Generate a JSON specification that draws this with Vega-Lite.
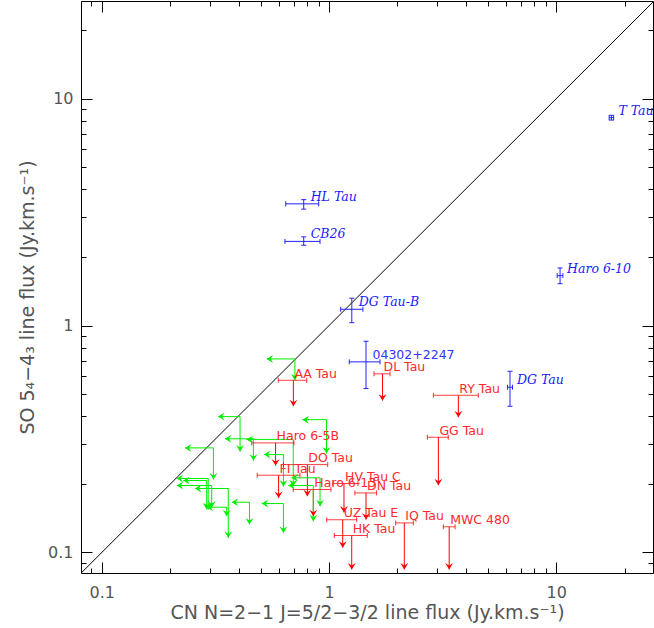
{
  "$schema": "https://vega.github.io/schema/vega-lite/v6.json",
  "width": 572,
  "height": 572,
  "autosize": "none",
  "padding": {"left": 81, "top": 1, "right": 1, "bottom": 55},
  "background": "white",
  "config": {"view": {"stroke": "black", "strokeWidth": 1}, "axis": {"grid": false}, "font": "DejaVu Sans"},
  "datasets": {
    "diag": [{"d": 0.0812}, {"d": 26.67}],
    "src": [
      {"name": "HL Tau", "kind": "blue", "x": 0.774, "xlo": 0.645, "xhi": 0.901, "y": 3.44, "ylo": 3.26, "yhi": 3.59},
      {"name": "CB26", "kind": "blue", "x": 0.774, "xlo": 0.64, "xhi": 0.913, "y": 2.35, "ylo": 2.26, "yhi": 2.46},
      {"name": "DG Tau-B", "kind": "blue", "x": 1.26, "xlo": 1.126, "xhi": 1.41, "y": 1.18, "ylo": 1.03, "yhi": 1.32},
      {"name": "04302+2247", "kind": "blue", "x": 1.455, "xlo": 1.228, "xhi": 1.677, "y": 0.692, "ylo": 0.528, "yhi": 0.853},
      {"name": "DG Tau", "kind": "blue", "x": 6.26, "xlo": 6.1, "xhi": 6.42, "y": 0.535, "ylo": 0.441, "yhi": 0.629},
      {"name": "Haro 6-10", "kind": "blue", "x": 10.4, "xlo": 10.1, "xhi": 10.7, "y": 1.66, "ylo": 1.53, "yhi": 1.795},
      {"name": "T Tau", "kind": "blue", "x": 17.5, "xlo": 17.1, "xhi": 17.9, "y": 8.25, "ylo": 8.05, "yhi": 8.45},
      {"name": "AA Tau", "kind": "red", "x": 0.697, "xlo": 0.598, "xhi": 0.798, "y": 0.574, "ytip": 0.441},
      {"name": "DL Tau", "kind": "red", "x": 1.72, "xlo": 1.578, "xhi": 1.856, "y": 0.613, "ytip": 0.467},
      {"name": "RY Tau", "kind": "red", "x": 3.71, "xlo": 2.88, "xhi": 4.54, "y": 0.493, "ytip": 0.394},
      {"name": "GG Tau", "kind": "red", "x": 3.03, "xlo": 2.71, "xhi": 3.35, "y": 0.322, "ytip": 0.198},
      {"name": "Haro 6-5B", "kind": "red", "x": 0.582, "xlo": 0.457, "xhi": 0.701, "y": 0.304, "ytip": 0.2416},
      {"name": "DO Tau", "kind": "red", "x": 0.803, "xlo": 0.63, "xhi": 0.987, "y": 0.244, "ytip": 0.177},
      {"name": "FI Tau", "kind": "red", "x": 0.6, "xlo": 0.483, "xhi": 0.745, "y": 0.219, "ytip": 0.174},
      {"name": "HV Tau C", "kind": "red", "x": 1.164, "xlo": 1.041, "xhi": 1.341, "y": 0.2014, "ytip": 0.15},
      {"name": "Haro 6-13", "kind": "red", "x": 0.853, "xlo": 0.696, "xhi": 1.02, "y": 0.1895, "ytip": 0.1445},
      {"name": "DN Tau", "kind": "red", "x": 1.455, "xlo": 1.3, "xhi": 1.62, "y": 0.183, "ytip": 0.1397},
      {"name": "UZ Tau E", "kind": "red", "x": 1.149, "xlo": 0.977, "xhi": 1.324, "y": 0.1394, "ytip": 0.105},
      {"name": "HK Tau", "kind": "red", "x": 1.259, "xlo": 1.055, "xhi": 1.474, "y": 0.1188, "ytip": 0.0842},
      {"name": "IQ Tau", "kind": "red", "x": 2.145, "xlo": 1.966, "xhi": 2.35, "y": 0.135, "ytip": 0.0842},
      {"name": "MWC 480", "kind": "red", "x": 3.38, "xlo": 3.185, "xhi": 3.59, "y": 0.1298, "ytip": 0.0842},
      {"name": "g1", "kind": "green", "x": 0.708, "y": 0.713, "xtip": 0.532, "ytip": 0.574},
      {"name": "g2", "kind": "green", "x": 0.406, "y": 0.397, "xtip": 0.325, "ytip": 0.2786},
      {"name": "g3", "kind": "green", "x": 0.975, "y": 0.385, "xtip": 0.764, "ytip": 0.273},
      {"name": "g4", "kind": "green", "x": 0.465, "y": 0.317, "xtip": 0.3485, "ytip": 0.254},
      {"name": "g5", "kind": "green", "x": 0.696, "y": 0.315, "xtip": 0.434, "ytip": 0.196},
      {"name": "g6", "kind": "green", "x": 0.63, "y": 0.27, "xtip": 0.5175, "ytip": 0.1953},
      {"name": "g7", "kind": "green", "x": 0.31, "y": 0.289, "xtip": 0.2324, "ytip": 0.2097},
      {"name": "g8", "kind": "green", "x": 0.294, "y": 0.2118, "xtip": 0.2137, "ytip": 0.1547},
      {"name": "g9", "kind": "green", "x": 0.2895, "y": 0.2076, "xtip": 0.2284, "ytip": 0.1547},
      {"name": "g10", "kind": "green", "x": 0.3046, "y": 0.1973, "xtip": 0.2137, "ytip": 0.1578},
      {"name": "g11", "kind": "green", "x": 0.3603, "y": 0.1914, "xtip": 0.2572, "ytip": 0.1161},
      {"name": "g12", "kind": "green", "x": 0.3545, "y": 0.1583, "xtip": 0.2895, "ytip": 0.1446},
      {"name": "g13", "kind": "green", "x": 0.4467, "y": 0.1665, "xtip": 0.373, "ytip": 0.1329},
      {"name": "g14", "kind": "green", "x": 0.63, "y": 0.1643, "xtip": 0.5056, "ytip": 0.1221},
      {"name": "g15", "kind": "green", "x": 0.913, "y": 0.2133, "xtip": 0.685, "ytip": 0.16},
      {"name": "g16", "kind": "green", "x": 0.853, "y": 0.1973, "xtip": 0.662, "ytip": 0.1374}
    ]
  },
  "resolve": {"axis": {"x": "independent", "y": "independent"}},
  "layer": [
    {
      "data": {"name": "diag"},
      "mark": {"type": "line", "color": "black", "strokeWidth": 1},
      "encoding": {
        "x": {"field": "d", "type": "quantitative", "scale": {"type": "log", "domain": [0.081, 26.67], "nice": false},
          "axis": {"orient": "bottom", "values": [0.1, 1, 10], "format": "~g", "tickSize": -11, "tickColor": "black", "domain": false,
            "labelFont": "DejaVu Sans", "labelFontSize": 16, "labelColor": "#555", "labelPadding": 22, "labelFlush": false, "labelOverlap": false,
            "title": "CN N=2−1 J=5/2−3/2 line flux (Jy.km.s⁻¹)", "titleFont": "DejaVu Sans", "titleFontSize": 19, "titleFontWeight": "normal", "titleColor": "#555",
            "titleX": 286, "titleY": 39, "titleAlign": "center", "titleBaseline": "middle", "titleAnchor": null}},
        "y": {"field": "d", "type": "quantitative", "scale": {"type": "log", "domain": [0.0812, 26.95], "nice": false},
          "axis": {"orient": "left", "values": [0.1, 1, 10], "format": "~g", "tickSize": -11, "tickColor": "black", "domain": false,
            "labelFont": "DejaVu Sans", "labelFontSize": 16, "labelColor": "#555", "labelPadding": 19, "labelFlush": false, "labelOverlap": false,
            "title": "SO 5₄−4₃ line flux (Jy.km.s⁻¹)", "titleFont": "DejaVu Sans", "titleFontSize": 19, "titleFontWeight": "normal", "titleColor": "#555",
            "titleX": -54, "titleY": 296, "titleAngle": -90, "titleAlign": "center", "titleBaseline": "middle", "titleAnchor": null}}
      }
    },
    {
      "data": {"name": "src"},
      "transform": [{"filter": "datum.kind === 'red'"}],
      "mark": {"type": "rule", "color": "#ff0000", "strokeWidth": 1},
      "encoding": {
        "x": {"field": "x", "type": "quantitative", "scale": {"type": "log", "domain": [0.081, 26.67], "nice": false},
          "axis": {"orient": "bottom", "values": [0.09, 0.2, 0.3, 0.4, 0.5, 0.6, 0.7, 0.8, 0.9, 2, 3, 4, 5, 6, 7, 8, 9, 20], "labels": false, "tickSize": -5, "tickColor": "black", "domain": false, "title": null}},
        "y": {"field": "y", "type": "quantitative", "scale": {"type": "log", "domain": [0.0812, 26.95], "nice": false},
          "axis": {"orient": "left", "values": [0.09, 0.2, 0.3, 0.4, 0.5, 0.6, 0.7, 0.8, 0.9, 2, 3, 4, 5, 6, 7, 8, 9, 20], "labels": false, "tickSize": -5, "tickColor": "black", "domain": false, "title": null}},
        "y2": {"field": "ytip"}
      }
    },
    {
      "data": {"name": "src"},
      "transform": [{"filter": "datum.kind === 'green'"}],
      "mark": {"type": "rule", "color": "#00ee00", "strokeWidth": 1},
      "encoding": {
        "x": {"field": "xtip", "type": "quantitative", "scale": {"type": "log", "domain": [0.081, 26.67], "nice": false},
          "axis": {"orient": "top", "values": [0.1, 1, 10], "labels": false, "tickSize": -11, "tickColor": "black", "domain": false, "title": null}},
        "x2": {"field": "x"},
        "y": {"field": "y", "type": "quantitative", "scale": {"type": "log", "domain": [0.0812, 26.95], "nice": false},
          "axis": {"orient": "right", "values": [0.1, 1, 10], "labels": false, "tickSize": -11, "tickColor": "black", "domain": false, "title": null}}
      }
    },
    {
      "data": {"name": "src"},
      "transform": [{"filter": "datum.kind === 'green'"}],
      "mark": {"type": "rule", "color": "#00ee00", "strokeWidth": 1},
      "encoding": {
        "x": {"field": "x", "type": "quantitative", "scale": {"type": "log", "domain": [0.081, 26.67], "nice": false},
          "axis": {"orient": "top", "values": [0.09, 0.2, 0.3, 0.4, 0.5, 0.6, 0.7, 0.8, 0.9, 2, 3, 4, 5, 6, 7, 8, 9, 20], "labels": false, "tickSize": -5, "tickColor": "black", "domain": false, "title": null}},
        "y": {"field": "ytip", "type": "quantitative", "scale": {"type": "log", "domain": [0.0812, 26.95], "nice": false},
          "axis": {"orient": "right", "values": [0.09, 0.2, 0.3, 0.4, 0.5, 0.6, 0.7, 0.8, 0.9, 2, 3, 4, 5, 6, 7, 8, 9, 20], "labels": false, "tickSize": -5, "tickColor": "black", "domain": false, "title": null}},
        "y2": {"field": "y"}
      }
    },
    {
      "data": {"name": "src"},
      "transform": [{"filter": "datum.kind === 'red'"}],
      "mark": {"type": "rule", "color": "#ff0000", "strokeWidth": 1, "opacity": 0.75},
      "encoding": {
        "x": {"field": "xlo", "type": "quantitative", "scale": {"type": "log", "domain": [0.081, 26.67], "nice": false}, "axis": null},
        "x2": {"field": "xhi"},
        "y": {"field": "y", "type": "quantitative", "scale": {"type": "log", "domain": [0.0812, 26.95], "nice": false}, "axis": null}
      }
    },
    {
      "data": {"name": "src"},
      "transform": [{"filter": "datum.kind === 'red'"}, {"fold": ["xlo", "xhi"], "as": ["side", "xc"]}],
      "mark": {"type": "point", "shape": "M0,-1L0,1", "filled": false, "size": 25, "color": "#ff0000", "strokeWidth": 1, "opacity": 0.8},
      "encoding": {
        "x": {"field": "xc", "type": "quantitative", "scale": {"type": "log", "domain": [0.081, 26.67], "nice": false}, "axis": null},
        "y": {"field": "y", "type": "quantitative", "scale": {"type": "log", "domain": [0.0812, 26.95], "nice": false}, "axis": null}
      }
    },
    {
      "data": {"name": "src"},
      "transform": [{"filter": "datum.kind === 'red'"}],
      "mark": {"type": "point", "shape": "M0,0L-1,-1.6L0,-1L1,-1.6Z", "filled": true, "size": 64, "color": "#ff0000", "opacity": 1, "strokeWidth": 0},
      "encoding": {
        "x": {"field": "x", "type": "quantitative", "scale": {"type": "log", "domain": [0.081, 26.67], "nice": false}, "axis": null},
        "y": {"field": "ytip", "type": "quantitative", "scale": {"type": "log", "domain": [0.0812, 26.95], "nice": false}, "axis": null}
      }
    },
    {
      "data": {"name": "src"},
      "transform": [{"filter": "datum.kind === 'green'"}],
      "mark": {"type": "point", "shape": "M0,0L-1,-1.6L0,-1L1,-1.6Z", "filled": true, "size": 64, "color": "#00ee00", "opacity": 1, "strokeWidth": 0},
      "encoding": {
        "x": {"field": "x", "type": "quantitative", "scale": {"type": "log", "domain": [0.081, 26.67], "nice": false}, "axis": null},
        "y": {"field": "ytip", "type": "quantitative", "scale": {"type": "log", "domain": [0.0812, 26.95], "nice": false}, "axis": null}
      }
    },
    {
      "data": {"name": "src"},
      "transform": [{"filter": "datum.kind === 'green'"}],
      "mark": {"type": "point", "shape": "M0,0L1.6,-1L1,0L1.6,1Z", "filled": true, "size": 64, "color": "#00ee00", "opacity": 1, "strokeWidth": 0},
      "encoding": {
        "x": {"field": "xtip", "type": "quantitative", "scale": {"type": "log", "domain": [0.081, 26.67], "nice": false}, "axis": null},
        "y": {"field": "y", "type": "quantitative", "scale": {"type": "log", "domain": [0.0812, 26.95], "nice": false}, "axis": null}
      }
    },
    {
      "data": {"name": "src"},
      "transform": [{"filter": "datum.kind === 'blue'"}],
      "mark": {"type": "rule", "color": "#2222ff", "strokeWidth": 1},
      "encoding": {
        "x": {"field": "xlo", "type": "quantitative", "scale": {"type": "log", "domain": [0.081, 26.67], "nice": false}, "axis": null},
        "x2": {"field": "xhi"},
        "y": {"field": "y", "type": "quantitative", "scale": {"type": "log", "domain": [0.0812, 26.95], "nice": false}, "axis": null}
      }
    },
    {
      "data": {"name": "src"},
      "transform": [{"filter": "datum.kind === 'blue'"}],
      "mark": {"type": "rule", "color": "#2222ff", "strokeWidth": 1},
      "encoding": {
        "x": {"field": "x", "type": "quantitative", "scale": {"type": "log", "domain": [0.081, 26.67], "nice": false}, "axis": null},
        "y": {"field": "ylo", "type": "quantitative", "scale": {"type": "log", "domain": [0.0812, 26.95], "nice": false}, "axis": null},
        "y2": {"field": "yhi"}
      }
    },
    {
      "data": {"name": "src"},
      "transform": [{"filter": "datum.kind === 'blue'"}, {"fold": ["xlo", "xhi"], "as": ["side", "xc"]}],
      "mark": {"type": "point", "shape": "M0,-1L0,1", "filled": false, "size": 25, "color": "#2222ff", "strokeWidth": 1, "opacity": 1},
      "encoding": {
        "x": {"field": "xc", "type": "quantitative", "scale": {"type": "log", "domain": [0.081, 26.67], "nice": false}, "axis": null},
        "y": {"field": "y", "type": "quantitative", "scale": {"type": "log", "domain": [0.0812, 26.95], "nice": false}, "axis": null}
      }
    },
    {
      "data": {"name": "src"},
      "transform": [{"filter": "datum.kind === 'blue'"}, {"fold": ["ylo", "yhi"], "as": ["side", "yc"]}],
      "mark": {"type": "point", "shape": "M-1,0L1,0", "filled": false, "size": 25, "color": "#2222ff", "strokeWidth": 1, "opacity": 1},
      "encoding": {
        "x": {"field": "x", "type": "quantitative", "scale": {"type": "log", "domain": [0.081, 26.67], "nice": false}, "axis": null},
        "y": {"field": "yc", "type": "quantitative", "scale": {"type": "log", "domain": [0.0812, 26.95], "nice": false}, "axis": null}
      }
    },
    {
      "data": {"name": "src"},
      "transform": [{"filter": "datum.kind === 'red'"}],
      "mark": {"type": "text", "align": "left", "baseline": "middle", "dx": 1, "dy": -6.5, "font": "DejaVu Sans", "fontSize": 12.5, "color": "#ff2a2a"},
      "encoding": {
        "x": {"field": "x", "type": "quantitative", "scale": {"type": "log", "domain": [0.081, 26.67], "nice": false}, "axis": null},
        "y": {"field": "y", "type": "quantitative", "scale": {"type": "log", "domain": [0.0812, 26.95], "nice": false}, "axis": null},
        "text": {"field": "name"}
      }
    },
    {
      "data": {"name": "src"},
      "transform": [{"filter": "datum.kind === 'blue' && datum.name !== '04302+2247'"}],
      "mark": {"type": "text", "align": "left", "baseline": "middle", "dx": 7, "dy": -7, "font": "DejaVu Serif", "fontStyle": "italic", "fontSize": 12.5, "color": "#1a1aff"},
      "encoding": {
        "x": {"field": "x", "type": "quantitative", "scale": {"type": "log", "domain": [0.081, 26.67], "nice": false}, "axis": null},
        "y": {"field": "y", "type": "quantitative", "scale": {"type": "log", "domain": [0.0812, 26.95], "nice": false}, "axis": null},
        "text": {"field": "name"}
      }
    },
    {
      "data": {"name": "src"},
      "transform": [{"filter": "datum.name === '04302+2247'"}],
      "mark": {"type": "text", "align": "left", "baseline": "middle", "dx": 6.5, "dy": -7, "font": "DejaVu Sans", "fontSize": 12.5, "color": "#3333ff"},
      "encoding": {
        "x": {"field": "x", "type": "quantitative", "scale": {"type": "log", "domain": [0.081, 26.67], "nice": false}, "axis": null},
        "y": {"field": "y", "type": "quantitative", "scale": {"type": "log", "domain": [0.0812, 26.95], "nice": false}, "axis": null},
        "text": {"field": "name"}
      }
    }
  ]
}
